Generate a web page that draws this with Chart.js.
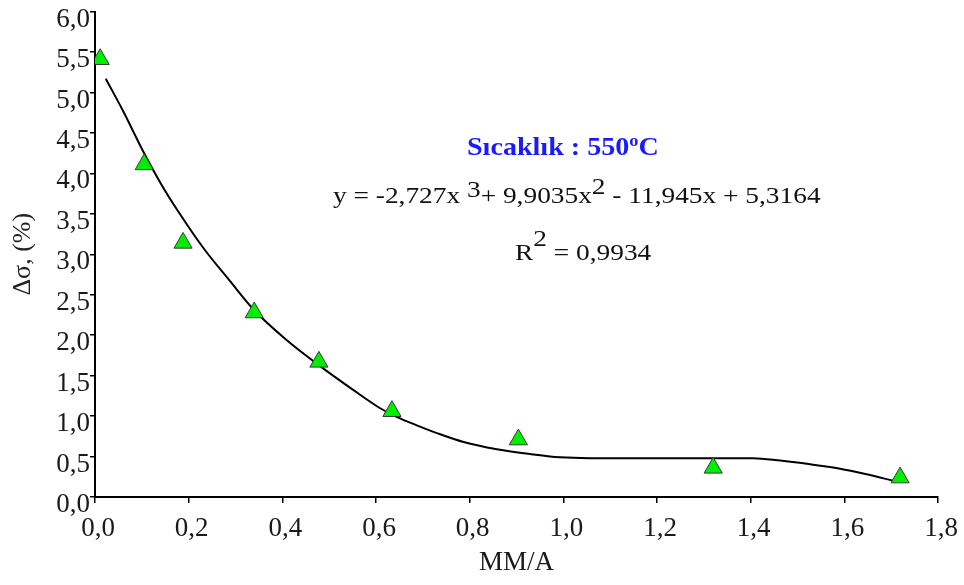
<!DOCTYPE html>
<html>
<head>
<meta charset="utf-8">
<script src="https://cdn.jsdelivr.net/npm/chart.js@4.4.1/dist/chart.umd.min.js"></script>
<style>
    html, body { margin: 0; padding: 0; background: #fff; }
    #wrap { width: 964px; height: 585px; }
</style>
</head>
<body>
<div id="wrap"><canvas id="sigmaChart" width="964" height="585"></canvas></div>
<script>
// olculen noktalar
const measX = [0.011, 0.105, 0.188, 0.340, 0.478, 0.634, 0.904, 1.320, 1.719];
const measY = [5.41, 4.11, 3.14, 2.28, 1.67, 1.06, 0.71, 0.36, 0.24];

// egri
const fitX = [0.023, 0.060, 0.103, 0.142, 0.181, 0.231, 0.288, 0.338, 0.409, 0.480, 0.552, 0.608, 0.644, 0.694, 0.730, 0.787, 0.858, 0.929, 0.993, 1.057, 1.200, 1.292, 1.405, 1.463, 1.520, 1.591, 1.648, 1.705];
const fitY = [5.17, 4.77, 4.27, 3.86, 3.50, 3.08, 2.67, 2.32, 1.94, 1.62, 1.32, 1.10, 0.99, 0.87, 0.79, 0.68, 0.59, 0.53, 0.49, 0.48, 0.48, 0.48, 0.48, 0.45, 0.41, 0.35, 0.28, 0.20];

const xTickLabels = ['0,0', '0,2', '0,4', '0,6', '0,8', '1,0', '1,2', '1,4', '1,6', '1,8'];
const yTickLabels = ['0,0', '0,5', '1,0', '1,5', '2,0', '2,5', '3,0', '3,5', '4,0', '4,5', '5,0', '5,5', '6,0'];

const xTitle = 'MM/A';
const yTitle = 'Δσ, (%)';
const tempText = ['Sıcaklık : 550', 'o', 'C'];
const eqText = ['y = -2,727x ', '3', '+ 9,9035x', '2', ' - 11,945x + 5,3164'];
const r2Text = ['R', '2', ' = 0,9934'];

function drawRun(ctx, x, y, parts, size, weight, sx, color) {
    ctx.save();
    ctx.fillStyle = color;
    ctx.textAlign = 'left';
    ctx.textBaseline = 'alphabetic';
    parts.forEach(function(p) {
        const fs = p.small ? Math.round(size * 0.65) : size;
        ctx.font = weight + ' ' + fs + 'px "Liberation Serif", "Times New Roman", serif';
        ctx.save();
        ctx.translate(x, y - (p.rise || 0));
        ctx.scale(sx, 1);
        ctx.fillText(p.t, 0, 0);
        ctx.restore();
        x += ctx.measureText(p.t).width * sx;
    });
    ctx.restore();
}

const notesPlugin = {
    id: 'notes',
    afterDraw: function(chart) {
        const ctx = chart.ctx;
        drawRun(ctx, 467, 155, [
            {t: tempText[0]}, {t: tempText[1], rise: 9, small: true}, {t: tempText[2]}
        ], 26, 'bold', 1.08, '#1a1aff');
        drawRun(ctx, 333, 203, [
            {t: eqText[0]}, {t: eqText[1], rise: 6}, {t: eqText[2]}, {t: eqText[3], rise: 9}, {t: eqText[4]}
        ], 24, 'normal', 1.14, '#111');
        drawRun(ctx, 515, 260, [
            {t: r2Text[0]}, {t: r2Text[1], rise: 14}, {t: r2Text[2]}
        ], 24, 'normal', 1.14, '#111');
    }
};

function zeroPad(scale) {
    scale.paddingTop = 0;
    scale.paddingBottom = 0;
    scale.paddingLeft = 0;
    scale.paddingRight = 0;
}

function initSigmaChart() {
    const ctx = document.getElementById('sigmaChart');
    if(!ctx) return;
    const serif = '"Liberation Serif", "Times New Roman", serif';
    try {
        new Chart(ctx, {
            type: 'scatter',
            data: {
                datasets: [{
                    label: 'Deney',
                    data: measX.map(function(x, i) { return {x: x, y: measY[i]}; }),
                    pointStyle: 'triangle',
                    pointRadius: 10.5,
                    backgroundColor: '#00ee00',
                    borderColor: '#3a3a3a',
                    borderWidth: 1,
                    showLine: false
                }, {
                    label: 'Egri',
                    data: fitX.map(function(x, i) { return {x: x, y: fitY[i]}; }),
                    showLine: true,
                    borderColor: '#000',
                    borderWidth: 2,
                    pointRadius: 0,
                    tension: 0.4,
                    cubicInterpolationMode: 'monotone',
                    fill: false
                }]
            },
            options: {
                responsive: false,
                animation: false,
                layout: {
                    padding: {top: 10, right: 26, bottom: 0, left: 0}
                },
                plugins: {
                    legend: {display: false},
                    tooltip: {enabled: false}
                },
                scales: {
                    x: {
                        type: 'linear',
                        min: 0,
                        max: 1.8,
                        afterFit: function(scale) { scale.height = 88; zeroPad(scale); },
                        border: {display: true, color: '#000', width: 2},
                        grid: {drawOnChartArea: false, drawTicks: true, tickLength: 6, color: '#000', lineWidth: 1.5},
                        ticks: {
                            stepSize: 0.2,
                            padding: 10,
                            labelOffset: 3,
                            maxRotation: 0,
                            autoSkip: false,
                            color: '#1a1a1a',
                            font: {family: serif, size: 27},
                            callback: function(value, index) { return xTickLabels[index]; }
                        },
                        title: {
                            display: true,
                            text: xTitle,
                            color: '#1a1a1a',
                            font: {family: serif, size: 27},
                            padding: {top: 0, bottom: 6}
                        }
                    },
                    y: {
                        type: 'linear',
                        min: 0,
                        max: 6,
                        afterFit: function(scale) { scale.width = 95; zeroPad(scale); },
                        border: {display: true, color: '#000', width: 2},
                        grid: {drawOnChartArea: false, drawTicks: true, tickLength: 5, color: '#000', lineWidth: 1.5},
                        ticks: {
                            stepSize: 0.5,
                            padding: 0,
                            labelOffset: 8,
                            autoSkip: false,
                            color: '#1a1a1a',
                            font: {family: serif, size: 27},
                            callback: function(value, index) { return yTickLabels[index]; }
                        },
                        title: {
                            display: true,
                            text: yTitle,
                            color: '#222',
                            font: {family: serif, size: 26},
                            padding: {top: 8, bottom: 0}
                        }
                    }
                }
            },
            plugins: [notesPlugin]
        });
    } catch(e) {
        console.error('Grafik cizilemedi:', e);
    }
}

if(document.readyState === 'loading') {
    document.addEventListener('DOMContentLoaded', initSigmaChart);
} else {
    initSigmaChart();
}
</script>
</body>
</html>
